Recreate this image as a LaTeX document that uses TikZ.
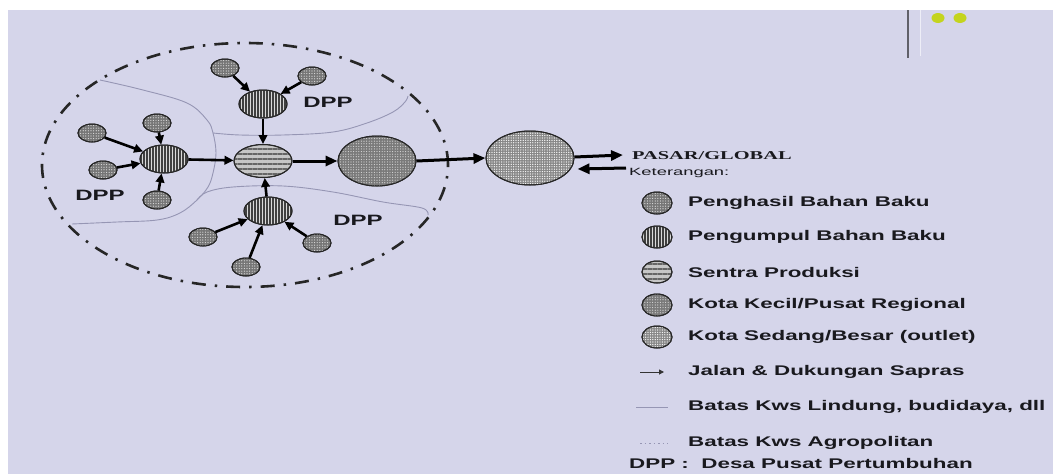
\documentclass[tikz,border=0pt]{standalone}
\usepackage{fontspec}
\setmainfont{Liberation Sans}
\newfontfamily\pasarfont{Liberation Serif}
\usepackage{graphicx}
\usetikzlibrary{shapes.geometric,arrows.meta,patterns.meta}
\definecolor{bg}{RGB}{213,213,234}
\definecolor{bndcol}{RGB}{150,150,180}
\definecolor{txtcol}{RGB}{25,25,30}
\definecolor{prodgray}{RGB}{118,118,118}
\definecolor{kecilgray}{RGB}{122,122,122}
\definecolor{sedanggray}{RGB}{135,135,135}
\definecolor{yel}{RGB}{196,212,30}
\newcommand\xwide[2]{\scalebox{#1}[1]{#2}}
\begin{document}
\begin{tikzpicture}[x=1pt,y=-1pt,
  base/.style={ellipse, draw=black!85, line width=1pt, inner sep=0pt},
  outline/.style={postaction={draw=black!85, line width=1pt}},
  prod/.style={base, minimum width=28pt, minimum height=18pt, fill=prodgray,
     postaction={pattern={Dots[distance=2.6pt,radius=0.6pt]}, pattern color=white!75!gray}, outline},
  coll/.style={base, minimum width=48pt, minimum height=28pt, fill=white!70!gray,
     postaction={pattern={Lines[angle=90,distance=3pt,line width=1.3pt]}, pattern color=black!75}, outline},
  sentra/.style={base, minimum width=58pt, minimum height=33pt, fill=gray!45,
     postaction={pattern={Lines[angle=0,distance=5pt,line width=1.8pt]}, pattern color=black!60}, outline},
  kecil/.style={base, minimum width=78pt, minimum height=50pt, fill=kecilgray,
     postaction={pattern={Dots[distance=2.6pt,radius=0.6pt]}, pattern color=white!70!gray}, outline},
  sedang/.style={base, minimum width=88pt, minimum height=54pt, fill=sedanggray,
     postaction={pattern={Dots[distance=2.4pt,radius=0.7pt]}, pattern color=white!92!gray}, outline},
  arr/.style={line width=2.6pt, draw=black, -{Triangle[length=9pt,width=8.5pt]}},
  arrbig/.style={line width=3pt, draw=black, -{Triangle[length=12pt,width=10pt]}},
  bnd/.style={draw=bndcol, line width=0.9pt},
  dpp/.style={font=\fontsize{15}{17}\selectfont\bfseries, text=txtcol, inner sep=0pt},
  leg/.style={font=\fontsize{14}{16}\selectfont\bfseries, text=txtcol, inner sep=0pt, anchor=west},
  icon/.style={minimum width=30pt, minimum height=22pt}
]
\useasboundingbox (0,0) rectangle (1053,474);
\fill[white] (0,0) rectangle (1053,474);
\fill[bg] (8,10) rectangle (1053,474);

% top-right decoration
\draw[white!60!bg, line width=1pt] (920,10) -- (920,56);
\draw[black!55!bg, line width=1.6pt] (908,10) -- (908,58);
\fill[yel] (938,18) ellipse [x radius=6.5pt, y radius=5pt];
\fill[yel] (960,18) ellipse [x radius=6.5pt, y radius=5pt];

% boundary lines
\draw[bnd] plot[smooth, tension=0.6] coordinates {(100,80) (143,90) (187,103) (207,120) (213,133) (216,153) (213,173) (208,187) (197,200) (180,213) (157,220) (117,222) (72,224)};
\draw[bnd] plot[smooth, tension=0.6] coordinates {(213,133) (240,135) (283,135) (333,132) (367,123) (393,112) (405,102) (408,96)};
\draw[bnd] plot[smooth, tension=0.6] coordinates {(197,200) (207,192) (233,187) (283,186) (333,192) (383,202) (422,208) (428,215)};

% agropolitan boundary
\draw[line width=2.6pt, black!85, dash pattern=on 14pt off 9pt on 2.5pt off 9pt] (245,165) ellipse [x radius=203pt, y radius=122pt];

% nodes
\node[prod] (p1) at (225,68) {};
\node[prod] (p2) at (312,76) {};
\node[coll] (ctop) at (263,104) {};
\node[prod] (p3) at (92,133) {};
\node[prod] (p4) at (157,123) {};
\node[prod] (p5) at (103,170) {};
\node[prod] (p6) at (157,200) {};
\node[coll] (cleft) at (164,159) {};
\node[prod] (p7) at (203,237) {};
\node[prod] (p8) at (246,267) {};
\node[prod] (p9) at (317,243) {};
\node[coll] (cbot) at (268,211) {};
\node[sentra] (sen) at (263,161) {};
\node[kecil] (kk) at (377,161) {};
\node[sedang] (ks) at (530,158) {};

% labels
\node[dpp] (d1) at (328,102) {\xwide{1.6}{DPP}};
\node[dpp] (d2) at (100,195) {\xwide{1.6}{DPP}};
\node[dpp] (d3) at (358,220) {\xwide{1.6}{DPP}};
\node[anchor=west, inner sep=0pt, text=txtcol, font=\pasarfont\fontsize{12}{14}\selectfont\bfseries] (pasar) at (632,156) {\xwide{1.7}{PASAR/GLOBAL}};

% arrows
\draw[arr] (p1) -- (ctop);
\draw[arr] (p2) -- (ctop);
\draw[arr] (ctop) -- (sen);
\draw[arr] (p3) -- (cleft);
\draw[arr] (p4) -- (cleft);
\draw[arr] (p5) -- (cleft);
\draw[arr] (p6) -- (cleft);
\draw[arr] (cleft) -- (sen);
\draw[arr] (p7) -- (cbot);
\draw[arr] (p8) -- (cbot);
\draw[arr] (p9) -- (cbot);
\draw[arr] (cbot) -- (sen);
\draw[arrbig] (sen) -- (kk);
\draw[arrbig] (kk.east) -- (ks.west);
\draw[arrbig] ([yshift=1pt]ks.east) -- ([xshift=-9pt,yshift=1pt]pasar.west);
\draw[arrbig] ([xshift=-6pt,yshift=-12pt]pasar.west) -- ([xshift=3pt,yshift=-11pt]ks.east);

% legend
\node[anchor=west, inner sep=0pt, text=txtcol, font=\fontsize{10.5}{12}\selectfont] (ket) at (629,173) {\xwide{1.75}{Keterangan:}};
\node[prod, icon] (i1) at (657,203) {};
\node[leg] (t1) at (688,203) {\xwide{1.6}{Penghasil Bahan Baku}};
\node[coll, icon] (i2) at (657,237) {};
\node[leg] (t2) at (688,237) {\xwide{1.6}{Pengumpul Bahan Baku}};
\node[sentra, icon] (i3) at (657,272) {};
\node[leg] (t3) at (688,272) {\xwide{1.6}{Sentra Produksi}};
\node[kecil, icon] (i4) at (657,305) {};
\node[leg] (t4) at (688,305) {\xwide{1.6}{Kota Kecil/Pusat Regional}};
\node[sedang, icon] (i5) at (657,337) {};
\node[leg] (t5) at (688,337) {\xwide{1.6}{Kota Sedang/Besar (outlet)}};
\coordinate (j1) at (640,372);
\coordinate (j2) at (664,372);
\draw[line width=1pt, black!80, -{Triangle[length=5pt,width=5pt]}] (j1) -- (j2);
\node[leg] (t6) at (688,372) {\xwide{1.6}{Jalan \& Dukungan Sapras}};
\coordinate (b1) at (636,407);
\coordinate (b2) at (668,407);
\draw[bnd] (b1) -- (b2);
\node[leg] (t7) at (688,407) {\xwide{1.6}{Batas Kws Lindung, budidaya, dll}};
\coordinate (a1) at (640,443);
\coordinate (a2) at (668,443);
\draw[bndcol, line width=1pt, dash pattern=on 1.5pt off 3pt] (a1) -- (a2);
\node[leg] (t8) at (688,443) {\xwide{1.6}{Batas Kws Agropolitan}};
\node[leg] (t9) at (629,463) {\xwide{1.6}{DPP :\ \ Desa Pusat Pertumbuhan}};
\end{tikzpicture}
\end{document}
